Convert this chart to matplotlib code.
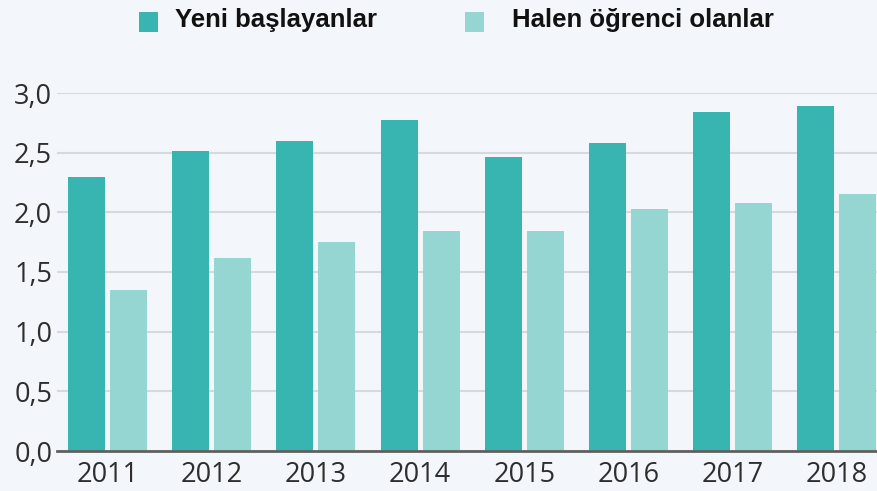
import matplotlib
matplotlib.use("Agg")
import matplotlib.pyplot as plt
import numpy as np
from matplotlib.patches import Rectangle
from matplotlib import font_manager

years = ["2011", "2012", "2013", "2014", "2015", "2016", "2017", "2018"]
yeni = [2.30, 2.51, 2.60, 2.77, 2.46, 2.58, 2.84, 2.89]
halen = [1.35, 1.62, 1.75, 1.84, 1.84, 2.03, 2.08, 2.15]
series_names = ["Yeni başlayanlar", "Halen öğrenci olanlar"]
yticks = [0.0, 0.5, 1.0, 1.5, 2.0, 2.5, 3.0]
ytick_labels = ["0,0", "0,5", "1,0", "1,5", "2,0", "2,5", "3,0"]

bg = "#f3f6fa"
c_dark = "#38b5b0"
c_light = "#95d6d3"

names = {f.name for f in font_manager.fontManager.ttflist}
tick_font = "Open Sans" if "Open Sans" in names else "DejaVu Sans"
leg_font = "Liberation Sans"

W, H = 878, 491
fig = plt.figure(figsize=(W / 100, H / 100), dpi=100, facecolor=bg)
ax = fig.add_axes([57 / W, 1 - 451 / H, 1 - 57 / W, (451 - 93) / H])
ax.set_facecolor(bg)

x = np.arange(len(years))
w = 0.355
off = 0.2015
b1 = ax.bar(x - off, yeni, w, color=c_dark, label=series_names[0], zorder=3)
b2 = ax.bar(x + off, halen, w, color=c_light, label=series_names[1], zorder=3)

ax.set_xlim(-0.485, 7.394)
ax.set_ylim(0, 3.0)
ax.set_yticks(yticks)
ax.set_yticklabels(ytick_labels)
ax.set_xticks(x)
ax.set_xticklabels(years)
ax.yaxis.grid(True, color="#d6d9dd", linewidth=1.5, zorder=0)
ax.set_axisbelow(True)
for s in ["top", "right", "left"]:
    ax.spines[s].set_visible(False)
ax.spines["bottom"].set_color("#606060")
ax.spines["bottom"].set_linewidth(2)
ax.spines["bottom"].set_zorder(4)
ax.tick_params(axis="both", length=0, labelsize=19.5, colors="#2e2e2e")
ax.tick_params(axis="y", pad=3.5)
ax.tick_params(axis="x", pad=7)
for lab in ax.get_xticklabels() + ax.get_yticklabels():
    lab.set_family(tick_font)

# legend drawn manually in figure pixel coordinates
leg_items = [(139, 175, c_dark), (465, 512, c_light)]
for (sx, tx, col), name in zip(leg_items, series_names):
    fig.patches.append(Rectangle((sx / W, 1 - 32 / H), 19 / W, 20 / H,
                                 transform=fig.transFigure, facecolor=col,
                                 edgecolor="none"))
    fig.text(tx / W, 1 - 27 / H, name, family=leg_font, weight="bold",
             size=18.5, color="#111111", ha="left", va="baseline")

fig.savefig("out.png", dpi=100, facecolor=bg)
